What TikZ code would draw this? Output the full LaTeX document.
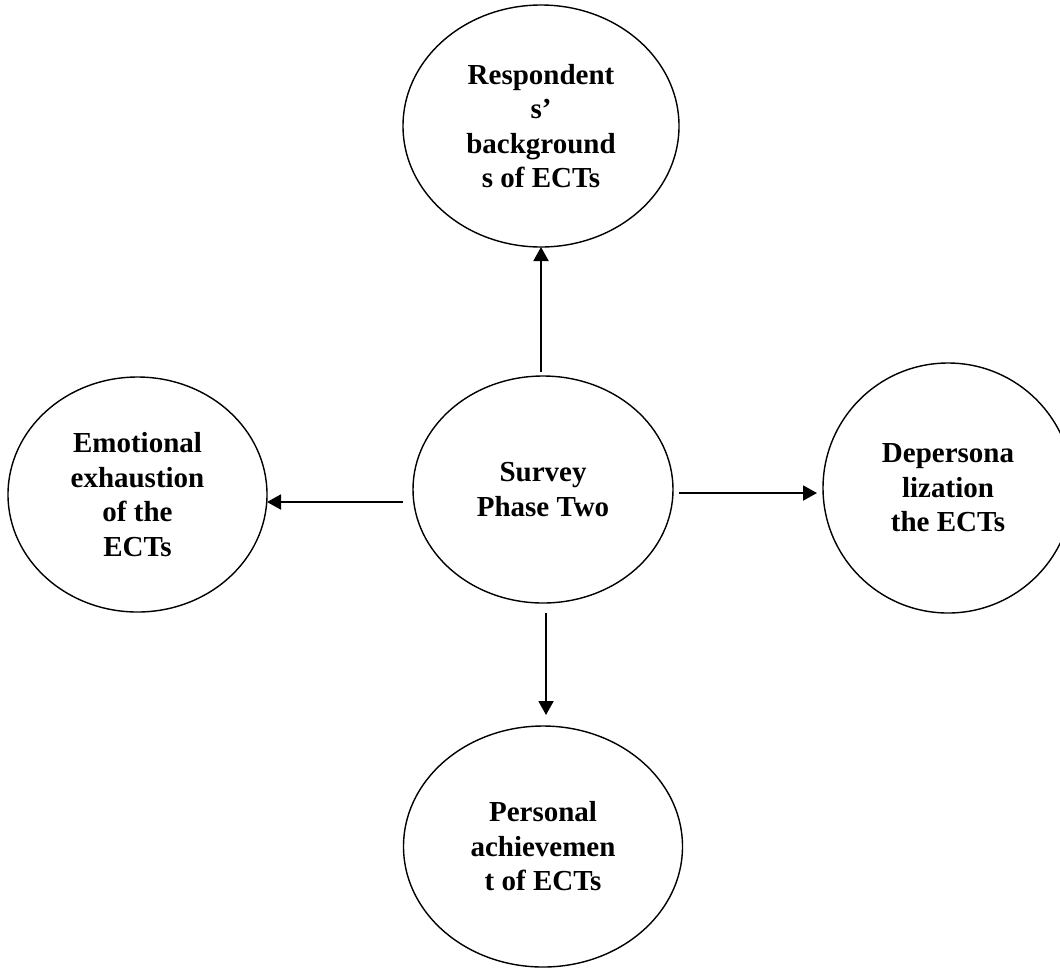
\documentclass[tikz,border=0pt]{standalone}
\usepackage{fontspec}
\setmainfont{Liberation Serif}
\usetikzlibrary{arrows.meta,shapes.geometric,positioning}

\begin{document}
\begin{tikzpicture}[
  topic/.style={ellipse,draw=black,line width=0.8pt,inner sep=0pt,outer sep=0pt},
  link/.style={-{Triangle[length=0.28cm,width=0.3cm]},line width=1.1pt},
  font=\bfseries\fontsize{16.5}{19.6}\selectfont,
  align=center]

  \useasboundingbox (0,0) rectangle (21.2,-19.36);

  \node[topic,minimum width=5.2cm,minimum height=4.54cm] (survey) at (10.86,-9.79) {Survey\\Phase Two};
  \node[topic,minimum width=5.52cm,minimum height=4.84cm] (background) [above=2.58cm of survey, xshift=-0.04cm] {Respondent\\s’\\background\\s of ECTs};
  \node[topic,minimum width=5.18cm,minimum height=4.7cm] (exhaustion) [left=2.92cm of survey, yshift=-0.1cm] {Emotional\\exhaustion\\of the\\ECTs};
  \node[topic,minimum width=5cm,minimum height=5cm] (depersonalization) [right=3cm of survey, yshift=0.03cm] {Depersona\\lization\\the ECTs};
  \node[topic,minimum width=5.58cm,minimum height=4.82cm] (achievement) [below=2.46cm of survey] {Personal\\achievemen\\t of ECTs};

  \draw[link] ([shift={(-0.04,0.08)}]survey.north) -- (background.south);
  \draw[link] ([shift={(-0.2,-0.25)}]survey.west) coordinate (w0) -- (w0 -| exhaustion.east);
  \draw[link] ([shift={(0.12,-0.07)}]survey.east) coordinate (e0) -- ([xshift=-0.12cm]e0 -| depersonalization.west);
  \draw[link] ([shift={(0.06,-0.2)}]survey.south) coordinate (s0) -- ([yshift=0.22cm]s0 |- achievement.north);
\end{tikzpicture}
\end{document}
